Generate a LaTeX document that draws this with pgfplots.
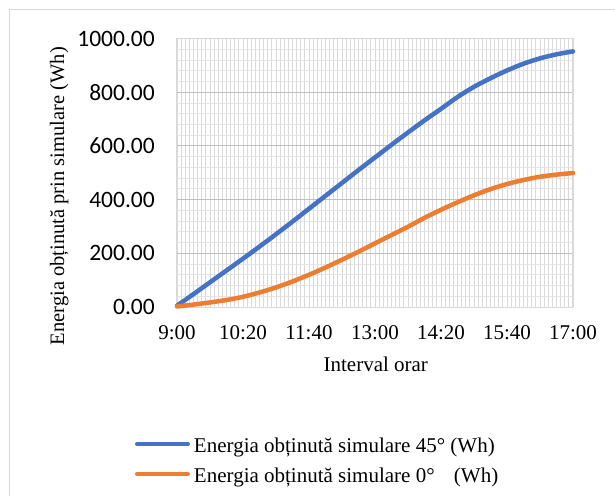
\documentclass[border=0pt]{standalone}
\usepackage{fontspec}
\setmainfont{Liberation Serif}
\newfontfamily\carlito{Carlito}
\usepackage{pgfplots}
\pgfplotsset{compat=1.18}
\definecolor{serblue}{HTML}{4472C4}
\definecolor{serorange}{HTML}{ED7D31}
\definecolor{gridv}{HTML}{D9D9D9}
\definecolor{gridmaj}{HTML}{BFBFBF}
\definecolor{gridmin}{HTML}{E4E4E4}
\definecolor{framec}{HTML}{D9D9D9}
\begin{document}
\begin{tikzpicture}
\path[use as bounding box] (-177bp,-189bp) rectangle (438bp,307bp);
\draw[framec, line width=1bp] (-167bp,-200bp) -- (-167bp,297bp) -- (450bp,297bp);
\begin{axis}[
  at={(0,0)}, anchor=south west,
  scale only axis, width=396bp, height=268.5bp,
  xmin=0, xmax=480, ymin=0, ymax=1000,
  clip=false,
  xtick={0,80,...,480},
  xticklabels={9:00,10:20,11:40,13:00,14:20,15:40,17:00},
  minor xtick={0,5,...,480},
  ytick={0,200,...,1000},
  yticklabels={0.00,200.00,400.00,600.00,800.00,1000.00},
  minor y tick num=4,
  major tick length=0pt, minor tick length=0pt,
  xmajorgrids, xminorgrids, ymajorgrids, yminorgrids,
  major x grid style={draw=gridv, line width=0.8bp},
  minor x grid style={draw=gridv, line width=0.8bp},
  major y grid style={draw=gridmaj, line width=0.8bp},
  minor y grid style={draw=gridmin, line width=0.8bp},
  axis line style={draw=gridv, line width=1bp},
  xticklabel style={font=\fontsize{21bp}{25bp}\selectfont, anchor=base, inner sep=0pt, yshift=-32bp},
  yticklabel style={font=\carlito\fontsize{23.5bp}{28bp}\selectfont, anchor=east, inner sep=0pt, xshift=-22bp},
  xlabel={Interval orar},
  xlabel style={at={(axis description cs:0.502,-0.242)}, anchor=base, font=\fontsize{21bp}{25bp}\selectfont},
  ylabel={Energia obținută prin simulare (Wh)},
  ylabel style={at={(axis description cs:-0.285,0.413)}, anchor=base, font=\fontsize{20.5bp}{25bp}\selectfont},
  legend cell align=left,
  legend style={draw=none, fill=none, inner sep=0pt, outer sep=0pt,
    at={(axis description cs:-0.1061,-0.4879)}, anchor=north west,
    row sep=12bp, column sep=4bp,
    font=\fontsize{21bp}{25bp}\selectfont,
    nodes={inner sep=0pt, text height=14bp, text depth=4bp}},
  legend image code/.code={\draw[#1, line width=4.5bp, line cap=round] (2.25bp,3bp) -- (52.75bp,3bp);},
]
\addplot[serblue, line width=4.5bp, line cap=round, smooth] coordinates {
(0,5) (20,48) (40,92) (60,136) (80,180) (100,225) (120,271) (140,318)
(160,366) (180,414) (200,462) (220,510) (240,557) (260,604) (280,650)
(300,695) (320,738) (340,782) (360,820) (380,852) (400,881) (420,906)
(440,926) (460,941) (480,952)};
\addlegendentry{Energia obținută simulare 45° (Wh)}
\addplot[serorange, line width=4.5bp, line cap=round, smooth] coordinates {
(0,2) (20,9) (40,17) (60,26) (80,38) (100,54) (120,73) (140,95)
(160,120) (180,147) (200,176) (220,206) (240,237) (260,268) (280,299)
(300,332) (320,362) (340,390) (360,416) (380,439) (400,458) (420,473)
(440,485) (460,493) (480,499)};
\addlegendentry{Energia obținută simulare 0°\hspace{14bp} (Wh)}
\end{axis}
\end{tikzpicture}
\end{document}
